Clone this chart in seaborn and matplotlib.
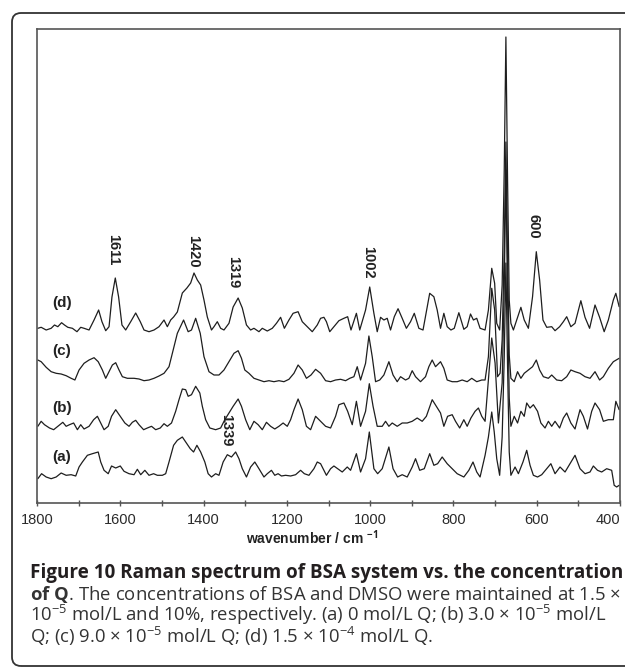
import matplotlib
matplotlib.use("Agg")
import matplotlib.pyplot as plt
import seaborn as sns
import pandas as pd
from matplotlib.patches import FancyBboxPatch
from matplotlib.transforms import IdentityTransform

# ---------------- data (wavenumber cm-1, relative intensity) ----------------
trace_a = [(1798,-1.7),(1789,3.3),(1778,0),(1766,-1.7),(1754,0),(1742,4),(1730,1.7),(1718,2.3),(1707,1),
           (1699,10),(1691,15),(1679,21.7),(1667,23.3),(1653,25),(1647,15),(1639,6.7),(1629,3.3),(1621,11),
           (1611,9),(1600,11),(1591,5.7),(1579,3.3),(1567,2.3),(1559,7.7),(1551,2.3),(1541,6.7),(1531,1.7),
           (1520,3.3),(1511,1.7),(1499,1.7),(1491,3.3),(1483,15),(1472,31.7),(1463,36.7),(1451,40),(1443,35),
           (1432,28.3),(1424,25),(1416,31.7),(1407,25),(1397,15),(1389,3.3),(1381,0),(1371,3.3),(1363,1.7),
           (1353,15),(1343,22.3),(1333,20),(1323,25),(1315,18.3),(1307,8.3),(1297,0),(1287,10),(1277,15),
           (1267,8.3),(1255,0),(1247,3.3),(1237,6.7),(1229,1.7),(1221,3.3),(1213,1),(1203,1.7),(1191,1),
           (1179,2.3),(1167,6.7),(1158,3.3),(1147,1.7),(1135,8.3),(1127,15),(1119,13.3),(1105,1.7),(1095,8.3),
           (1087,11),(1078,8.3),(1067,5),(1055,10),(1047,6.7),(1033,23.3),(1023,5),(1011,18.3),(1002,45),
           (991,8.3),(982,3.3),(971,8.3),(955,30),(945,8.3),(934,0),(923,2.3),(911,0),(899,10),(891,18.3),
           (881,6.7),(870,8.3),(857,23.3),(847,11.7),(838,13.3),(827,20),(815,13.3),(803,8.3),(791,3.3),
           (775,0),(763,6.7),(753,15),(744,5),(736,0),(724,21.7),(716,40),(708,65),(702,45),(696,18.3),
           (689,1.7),(683,40),(678,120),(674,214),(670,110),(666,25),(662,1.7),(652,10),(644,3.3),(633,15),
           (624,26.7),(616,11.7),(608,1.7),(598,0),(588,2.3),(576,8.3),(566,13.3),(556,3.3),(544,10),(532,5),
           (520,13.3),(508,21.7),(496,8.3),(484,3.3),(472,5),(464,11),(454,6.7),(444,5),(432,8.3),(420,6.7),
           (414,-8.3),(408,-10),(402,-8.3)]

trace_b = [(1798,1.7),(1790,6.7),(1782,3.3),(1770,0),(1760,-1.7),(1750,1.7),(1738,5.7),(1730,1.7),(1722,3.3),
           (1712,5),(1703,-1.7),(1695,3.3),(1687,-1),(1675,1.7),(1664,8.3),(1655,11.7),(1647,5),(1639,-1.7),
           (1629,1.7),(1621,11.7),(1611,18.3),(1600,11.7),(1589,5),(1579,1.7),(1571,5.7),(1563,7.7),(1555,3.3),
           (1544,-1.7),(1535,0),(1525,1.7),(1515,-1.7),(1504,0),(1495,4.3),(1487,1.7),(1477,5),(1467,16.7),
           (1459,28.3),(1451,39),(1443,38.3),(1437,31.7),(1429,33.3),(1419,41.7),(1409,35),(1403,21.7),
           (1395,8.3),(1385,0),(1371,-1.7),(1359,0),(1349,8.3),(1339,15),(1329,21.7),(1317,29),(1309,21.7),
           (1299,8.3),(1289,-1.7),(1279,6.7),(1269,3.3),(1259,-1.7),(1249,5.7),(1239,1.7),(1229,-1),(1219,1.7),
           (1209,5),(1199,1.7),(1191,8.3),(1183,18.3),(1173,29),(1163,18.3),(1153,1.7),(1143,-1.7),(1131,11.7),
           (1119,6.7),(1107,1.7),(1095,0),(1083,11.7),(1075,23.3),(1063,25),(1054,16.7),(1043,3.3),(1033,26.7),
           (1023,1.7),(1011,16.7),(1002,44.3),(993,21.7),(983,1.7),(971,1.7),(963,6.7),(955,1.7),(947,5),
           (935,1.7),(923,5),(911,5),(899,6.7),(887,10),(875,6.7),(865,11.7),(851,28.3),(841,21.7),(831,15),
           (823,1.7),(814,11.7),(803,13.3),(795,6.7),(785,0),(775,8.3),(767,1.7),(758,10),(748,16.7),(740,20),
           (732,11.7),(724,6.7),(716,48),(708,90),(700,65),(692,5),(683,45),(678,140),(674,258),(670,130),
           (666,30),(662,1.7),(654,11.7),(646,5),(638,16.7),(630,11.7),(624,25),(616,20),(608,23.3),(598,16.7),
           (590,5),(580,0),(572,6.7),(564,1.7),(556,6.7),(545,0),(536,10),(528,15),(518,5),(508,-1),(496,18.3),
           (488,11.7),(478,-1),(468,16.7),(460,25),(449,18.3),(440,6.7),(428,8.3),(416,8.3),(410,26.7),(402,18.3)]

trace_c = [(1798,20),(1790,18.3),(1778,12.7),(1766,8.3),(1754,6.7),(1742,6),(1730,4.3),(1718,1.7),(1709,0),
           (1699,10),(1687,16.7),(1675,20),(1663,22.3),(1653,18.3),(1643,10),(1635,1.7),(1627,8.3),(1619,15),
           (1611,17.3),(1603,10),(1595,3.3),(1583,1.7),(1567,1.7),(1555,1),(1543,-0.7),(1531,0),(1519,1.7),
           (1507,4),(1495,6.7),(1483,13.3),(1475,26.7),(1463,46.7),(1448,60),(1437,48.3),(1429,50),(1419,61.7),
           (1408,46.7),(1399,23.3),(1387,8.3),(1375,5),(1363,5),(1351,10),(1339,18.3),(1327,26.7),(1317,29.3),
           (1309,21.7),(1301,10),(1291,6.7),(1279,1.7),(1267,0),(1255,-1.7),(1243,-0.7),(1231,-1.7),(1219,-0.7),
           (1207,-1.7),(1195,0.7),(1183,6.7),(1173,15),(1163,10),(1153,1.7),(1142,5),(1131,10.7),(1119,6.7),
           (1107,-0.7),(1095,-1.7),(1083,0),(1071,0.7),(1059,-0.7),(1049,1.7),(1039,3.3),(1031,13.3),(1023,0),
           (1011,16.7),(1003,44),(995,23.3),(987,-1.7),(977,0),(967,5),(955,18.3),(945,5),(935,-1.7),(927,3.3),
           (915,0),(907,1.7),(899,9.3),(891,3.3),(879,-1.7),(867,3.3),(859,13.3),(851,20),(843,13.3),(831,18.3),
           (823,11.7),(815,0),(803,-1.7),(791,-1.7),(779,0),(767,-1.7),(756,1.7),(744,-1.7),(732,0),(724,0),
           (716,23.3),(708,91.7),(701,70),(694,3.3),(688,6.7),(683,40),(678,130),(674,238),(670,120),(666,25),
           (662,1.7),(654,-1.7),(646,8.3),(638,1.7),(630,6.7),(620,10),(610,13.3),(601,20),(593,10),(584,3.3),
           (572,1.7),(564,5),(552,0),(540,-0.7),(528,3.3),(518,10),(508,8.3),(496,6.7),(484,3.3),(472,1.7),
           (460,8.3),(449,0),(440,3.3),(428,11.7),(416,18.3),(402,21.7)]

trace_d = [(1798,1.7),(1790,2.7),(1778,0),(1766,1.7),(1758,5),(1750,3.3),(1741,7.3),(1734,5),(1726,2.7),
           (1715,1.7),(1704,-1.7),(1695,2.7),(1687,1.7),(1675,0),(1663,10),(1652,20),(1644,8.3),(1635,-0.7),
           (1627,3.3),(1620,33),(1612,52),(1604,33),(1596,5),(1587,0),(1575,8.3),(1563,17),(1552,8.3),(1543,0),
           (1531,-1.7),(1519,0),(1507,3.3),(1495,10),(1487,3.3),(1479,10),(1472,13),(1463,18),(1451,37),
           (1440,42),(1431,47),(1423,57),(1415,50),(1407,45),(1399,30),(1391,13),(1381,0),(1375,3.3),(1367,8.3),
           (1359,1.7),(1351,0),(1339,6.7),(1329,23),(1317,32),(1307,22),(1297,5),(1287,0),(1279,1.7),(1267,-1.7),
           (1259,1.7),(1247,-1),(1235,1.7),(1225,6.7),(1215,12.7),(1206,1.7),(1195,10),(1185,16.7),(1173,18.3),
           (1163,8.3),(1155,5),(1139,-1.7),(1127,5),(1119,11.7),(1111,12.7),(1105,8.3),(1097,-1.7),(1087,3.3),
           (1075,9.3),(1063,11.7),(1054,13.3),(1046,0),(1033,16.7),(1025,0),(1011,20),(1001,43),(991,16.7),
           (983,-1.7),(975,12.7),(967,10),(959,11.7),(951,0),(942,13.3),(933,21.3),(923,11.7),(913,1.7),
           (903,8.3),(894,16.7),(883,1.7),(873,0),(865,18.3),(857,36.7),(847,33.3),(839,20),(831,1.7),(823,16.7),
           (815,3.3),(806,0),(798,1.7),(787,17.3),(775,0.7),(767,3.3),(759,16),(752,10),(744,11.7),(736,1.7),
           (724,0),(716,20),(708,61.7),(701,46.7),(696,6.7),(689,0),(683,45),(678,160),(674,293),(670,150),
           (666,30),(662,6.7),(656,0),(648,10),(638,22.7),(630,10),(620,1.7),(610,33.3),(601,78.3),(593,50),
           (585,10),(576,2.7),(564,3.3),(556,-0.7),(545,3.3),(536,8.3),(528,13.3),(518,3.3),(508,6.7),(494,29.3),
           (484,12.7),(473,1.7),(460,25),(449,12.7),(438,-1.7),(428,10),(416,30),(410,36.7),(402,23.3)]

trace_names = ["(a)", "(b)", "(c)", "(d)"]
trace_offsets = [26, 75, 123, 173]
trace_label_x = [1740, 1740, 1740, 1740]
trace_label_y = [46, 95, 152, 200]

peak_labels = ["1611", "1420", "1319", "1339", "1002", "600"]
peak_label_x = [1618, 1426, 1328, 1347, 1006, 608]
peak_label_y = [253, 252, 231, 73, 241, 277]

x_ticks = [1800, 1600, 1400, 1200, 1000, 800, 600, 400]

caption_lines = [
    "Figure 10 Raman spectrum of BSA system vs. the concentration",
    r"$\mathbf{of\ Q}$. The concentrations of BSA and DMSO were maintained at 1.5 ×",
    r"10$^{-5}$ mol/L and 10%, respectively. (a) 0 mol/L Q; (b) 3.0 × 10$^{-5}$ mol/L",
    r"Q; (c) 9.0 × 10$^{-5}$ mol/L Q; (d) 1.5 × 10$^{-4}$ mol/L Q.",
]

# ---------------- build long table ----------------
rows = []
for name, off, tr in zip(trace_names, trace_offsets, [trace_a, trace_b, trace_c, trace_d]):
    for w, v in tr:
        rows.append({"trace": name, "wavenumber": w, "signal": v + off})
df = pd.DataFrame(rows)

# ---------------- styling ----------------
sns.set_style("white")
plt.rcParams["font.family"] = ["Liberation Sans", "DejaVu Sans"]
plt.rcParams["mathtext.fontset"] = "custom"
plt.rcParams["mathtext.rm"] = "Open Sans"
plt.rcParams["mathtext.bf"] = "Open Sans:bold"
plt.rcParams["mathtext.it"] = "Open Sans:italic"

W, H = 625, 667
fig = plt.figure(figsize=(W / 100, H / 100), dpi=100)
fig.patch.set_facecolor("white")

# outer rounded frame
frame = FancyBboxPatch((12, 1), 700, 653, boxstyle="round,pad=0,rounding_size=9",
                       transform=IdentityTransform(), fill=False, edgecolor="#333333",
                       linewidth=1.3, clip_on=False)
fig.add_artist(frame)

ax = fig.add_axes([37 / W, 1 - 503 / H, 583 / W, 474 / H])
sns.lineplot(data=df, x="wavenumber", y="signal", hue="trace", units="trace",
             estimator=None, sort=False, palette=["#1e1e1e"] * 4, legend=False,
             linewidth=0.9, ax=ax)

ax.set_xlim(1800, 400)
ax.set_ylim(0, 474)
ax.set_yticks([])
ax.set_ylabel("")
ax.set_xticks(x_ticks)
ax.set_xticklabels([str(t) for t in x_ticks])
ax.set_xticks(list(range(1700, 400, -200)), minor=True)
ax.tick_params(axis="x", which="major", direction="inout", length=5, width=1,
               color="#555555", labelsize=10.5, labelcolor="#2a2a2a", pad=5, bottom=True)
ax.tick_params(axis="x", which="minor", direction="inout", length=4, width=1,
               color="#555555", bottom=True)
ax.get_xticklabels()[-1].set_ha("right")
for s in ax.spines.values():
    s.set_visible(True)
    s.set_color("#555555")
    s.set_linewidth(1.2)

ax.set_xlabel(r"wavenumber / cm $^{\mathbf{-1}}$", fontsize=10, fontweight="bold", color="#222222")
ax.xaxis.set_label_coords((312 - 37) / 583, (503 - 538) / 474)
ax.xaxis.label.set_va("center")

for name, lx, ly in zip(trace_names, trace_label_x, trace_label_y):
    ax.text(lx, ly, name, fontsize=11, fontweight="bold", ha="center", va="center", color="#222222")

for lab, px, py in zip(peak_labels, peak_label_x, peak_label_y):
    ax.text(px, py, lab, fontsize=10.5, fontweight="bold", rotation=-90,
            ha="center", va="center", color="#222222")

# ---------------- caption ----------------
baselines = [578, 600, 621, 643]
renderer = fig.canvas.get_renderer()
cap_texts = []
for i, (line, yb) in enumerate(zip(caption_lines, baselines)):
    t = fig.text(30 / W, 1 - yb / H, line, fontsize=13.0, family=["Open Sans", "DejaVu Sans"],
                 fontweight="bold" if i == 0 else "normal",
                 color="#231f20" if i == 0 else "#333333",
                 ha="left", va="baseline")
    cap_texts.append(t)

# fit the full-width lines (1 and 2) to the text column width, reuse line-2 size for the rest
target_w = 588
w1 = cap_texts[0].get_window_extent(renderer).width
cap_texts[0].set_fontsize(13.0 * target_w / w1)
w2 = cap_texts[1].get_window_extent(renderer).width
reg_size = 13.0 * target_w / w2
for t in cap_texts[1:]:
    t.set_fontsize(reg_size)

fig.savefig("out.png", dpi=100, facecolor="white")
